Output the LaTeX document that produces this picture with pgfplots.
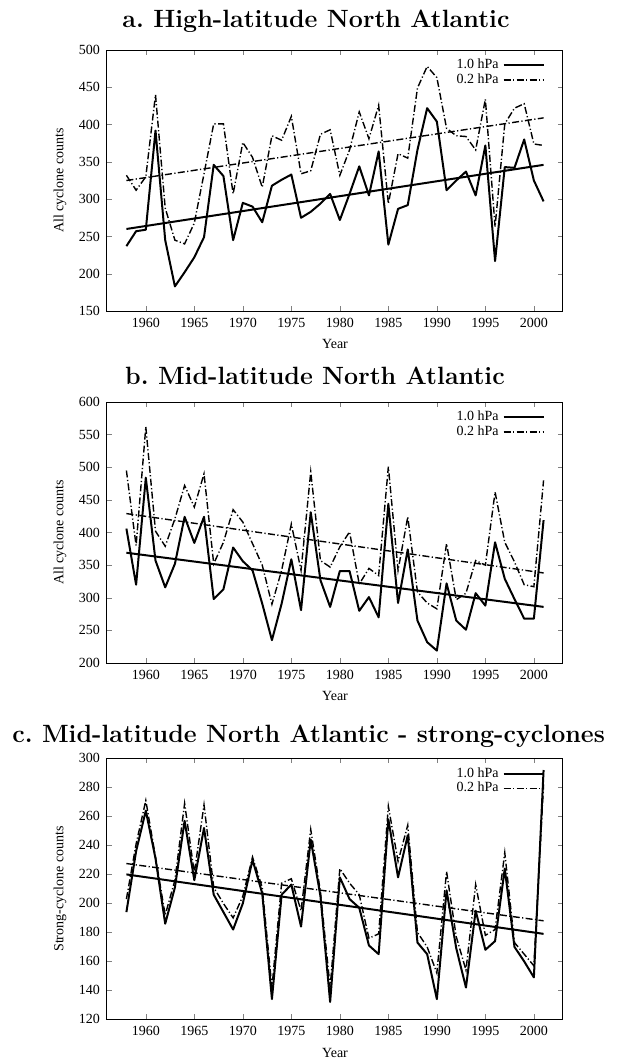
\documentclass[border=0pt]{standalone}
\usepackage{fontspec}
\newfontfamily\tfont{Liberation Serif}
\usepackage{pgfplots}
\pgfplotsset{compat=1.18}

\pgfplotstableread{
year s d
1958 237 332
1959 257 312
1960 259 330
1961 392 440
1962 245 288
1963 183 245
1964 202 240
1965 222 268
1966 249 334
1967 346 401
1968 331 401
1969 245 307
1970 295 376
1971 290 356
1972 269 316
1973 318 385
1974 326 379
1975 333 411
1976 275 334
1977 283 338
1978 294 387
1979 307 393
1980 272 332
1981 307 366
1982 344 417
1983 305 381
1984 364 426
1985 239 294
1986 287 361
1987 292 355
1988 366 449
1989 422 478
1990 404 463
1991 312 395
1992 325 385
1993 337 384
1994 305 366
1995 372 434
1996 217 263
1997 343 401
1998 342 422
1999 380 428
2000 325 374
2001 297 372
}\dataA

\pgfplotstableread{
year s d
1958 406 495
1959 320 380
1960 484 562
1961 357 402
1962 316 379
1963 352 421
1964 424 472
1965 384 439
1966 424 490
1967 298 352
1968 313 385
1969 377 435
1970 356 416
1971 342 383
1972 291 350
1973 235 290
1974 291 342
1975 359 413
1976 281 342
1977 431 493
1978 327 357
1979 286 347
1980 341 378
1981 341 401
1982 280 321
1983 301 345
1984 270 334
1985 444 501
1986 292 342
1987 374 424
1988 265 309
1989 232 292
1990 219 283
1991 322 383
1992 265 297
1993 251 307
1994 307 357
1995 288 350
1996 385 462
1997 329 385
1998 298 355
1999 268 320
2000 268 317
2001 419 480
}\dataB

\pgfplotstableread{
year s d
1958 194 203
1959 236 241
1960 264 271
1961 231 232
1962 186 192
1963 211 216
1964 257 269
1965 216 221
1966 252 268
1967 206 211
1968 194 200
1969 182 190
1970 200 205
1971 230 232
1972 207 211
1973 134 142
1974 206 214
1975 213 217
1976 184 195
1977 244 251
1978 205 208
1979 132 142
1980 218 224
1981 203 214
1982 197 206
1983 171 176
1984 165 179
1985 258 267
1986 218 229
1987 247 254
1988 173 180
1989 165 170
1990 134 152
1991 209 222
1992 169 177
1993 142 154
1994 195 213
1995 168 178
1996 174 182
1997 224 235
1998 170 173
1999 160 165
2000 149 157
2001 292 282
}\dataC

\pgfplotsset{
  panel/.style={
    scale only axis, width=228pt, height=130.5pt,
    xmin=1956, xmax=2003,
    xtick={1960,1965,...,2000},
    tick align=inside, major tick length=2.5pt,
    tick pos=both,
    ticklabel style={font=\tfont\fontsize{7}{8}\selectfont},
    /pgf/number format/assume math mode=true,
    /pgf/number format/1000 sep={},
    xlabel={Year},
    label style={font=\tfont\fontsize{7}{8}\selectfont},
    xlabel style={at={(axis description cs:0.5,-0.128)}, anchor=center},
    ylabel style={at={(axis description cs:-0.103,0.5)}, anchor=center},
    axis line style={line width=0.5pt},
    legend style={at={(axis description cs:0.965,0.99)}, anchor=north east,
      draw=none, fill=none, font=\tfont\fontsize{7}{8}\selectfont,
      row sep=-3pt, inner sep=1pt},
    legend plot pos=right, legend cell align=right,
    legend image code/.code={\draw[##1] (0pt,0pt) -- (20pt,0pt);},
  },
  sline/.style={black, line width=1pt, line join=round},
  dline/.style={black, line width=0.7pt, dash pattern=on 3.5pt off 1.2pt on 0.6pt off 1.2pt},
}

\begin{document}
\begin{tikzpicture}
\path[use as bounding box] (0,0) rectangle (310.5pt,-531pt);

\node[font=\bfseries\fontsize{12.5}{14}\selectfont] at (158pt,-10.5pt) {a.\ High-latitude North Atlantic};
\node[font=\bfseries\fontsize{12.5}{14}\selectfont] at (157.5pt,-188pt) {b.\ Mid-latitude North Atlantic};
\node[font=\bfseries\fontsize{12.5}{14}\selectfont] at (154.3pt,-368.3pt) {c.\ Mid-latitude North Atlantic - strong-cyclones};

\begin{axis}[panel, at={(53.5pt,-25pt)}, anchor=north west,
  ymin=150, ymax=500, ytick={150,200,...,500}, ylabel={All cyclone counts}]
\addplot[sline] table[x=year,y=s] {\dataA};
\addlegendentry{1.0 hPa}
\addplot[dline] table[x=year,y=d] {\dataA};
\addlegendentry{0.2 hPa}
\addplot[sline, forget plot] coordinates {(1958,260) (2001,346)};
\addplot[dline, forget plot] coordinates {(1958,325) (2001,409)};
\end{axis}

\begin{axis}[panel, at={(53.5pt,-201pt)}, anchor=north west,
  ymin=200, ymax=600, ytick={200,250,...,600}, ylabel={All cyclone counts}]
\addplot[sline] table[x=year,y=s] {\dataB};
\addlegendentry{1.0 hPa}
\addplot[dline] table[x=year,y=d] {\dataB};
\addlegendentry{0.2 hPa}
\addplot[sline, forget plot] coordinates {(1958,369) (2001,286)};
\addplot[dline, forget plot] coordinates {(1958,429) (2001,338)};
\end{axis}

\begin{axis}[panel, at={(53.5pt,-379.2pt)}, anchor=north west,
  ymin=120, ymax=300, ytick={120,140,...,300}, ylabel={Strong-cyclone counts}]
\addplot[sline] table[x=year,y=s] {\dataC};
\addlegendentry{1.0 hPa}
\addplot[dline] table[x=year,y=d] {\dataC};
\addlegendentry{0.2 hPa}
\addplot[sline, forget plot] coordinates {(1958,220) (2001,179)};
\addplot[dline, forget plot] coordinates {(1958,227.5) (2001,188)};
\end{axis}
\end{tikzpicture}
\end{document}
